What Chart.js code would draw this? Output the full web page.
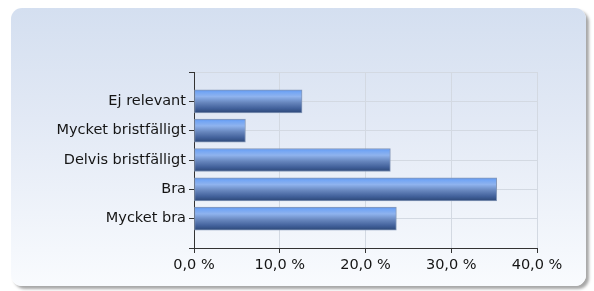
<!DOCTYPE html>
<html>
<head>
<meta charset="utf-8">
<script src="https://cdn.jsdelivr.net/npm/chart.js@4/dist/chart.umd.min.js"></script>
<style>
  html, body { margin: 0; padding: 0; background: #fff; }
  #wrap { position: relative; width: 594px; height: 291px; overflow: hidden; }
  #panel {
    position: absolute; left: 11px; top: 8px; width: 575px; height: 278px;
    border-radius: 11px;
    background: linear-gradient(#d4dff0 0%, #e2e9f5 40%, #f9fbfe 100%);
    box-shadow: 3px 3px 3px rgba(0,0,0,0.35);
  }
  canvas { position: absolute; left: 0; top: 0; }
</style>
</head>
<body>
<div id="wrap">
  <div id="panel"></div>
  <canvas id="chart" width="594" height="291"></canvas>
</div>
<script>
// svar per alternativ (%)
const categories = ['Ej relevant', 'Mycket bristfälligt', 'Delvis bristfälligt', 'Bra', 'Mycket bra'];
const values = [12.6, 6.0, 22.9, 35.3, 23.6];
const xTicks = [0, 10, 20, 30, 40];

// tomma platser överst och nederst, som i originalet
const labels = ['', ...categories, ''];
const data = [null, ...values, null];

const fmt = v => v.toFixed(1).replace('.', ',') + ' %';

function barFill(ctx) {
    const chart = ctx.chart;
    if (!chart.chartArea || ctx.dataIndex === undefined) return '#5a85c8';
    const y = chart.scales.y.getPixelForValue(ctx.dataIndex);
    const g = chart.ctx.createLinearGradient(0, y - 12, 0, y + 12);
    g.addColorStop(0, '#5d93ea');
    g.addColorStop(0.12, '#74a6f4');
    g.addColorStop(0.3, '#8fb3ee');
    g.addColorStop(0.55, '#6786bd');
    g.addColorStop(0.8, '#41609a');
    g.addColorStop(1, '#2a4573');
    return g;
}

new Chart(document.getElementById('chart'), {
    type: 'bar',
    data: {
        labels: labels,
        datasets: [{
            data: data,
            backgroundColor: barFill,
            borderColor: '#8598b8',
            borderWidth: 1,
            borderSkipped: false,
            barThickness: 23
        }]
    },
    options: {
        indexAxis: 'y',
        responsive: false,
        animation: false,
        layout: { padding: { top: 72, right: 57, left: 0, bottom: 0 } },
        plugins: { legend: { display: false }, tooltip: { enabled: false } },
        scales: {
            x: {
                min: 0, max: 40,
                afterBuildTicks: s => { s.ticks = xTicks.map(v => ({ value: v })); },
                afterFit: s => { s.height = 43; },
                grid: { color: '#d3d9e2', tickColor: '#333', tickLength: 5, drawTicks: true },
                border: { color: '#333', width: 1 },
                ticks: {
                    callback: v => fmt(v),
                    color: '#151515', padding: 4,
                    font: { family: 'DejaVu Sans', size: 14.5 }
                }
            },
            y: {
                offset: false,
                afterFit: s => { s.width = 194; },
                grid: { offset: false, color: '#d3d9e2', tickColor: '#333', tickLength: 5, drawTicks: true },
                border: { color: '#333', width: 1 },
                ticks: {
                    color: '#151515', padding: 3,
                    font: { family: 'DejaVu Sans', size: 14.5 }
                }
            }
        }
    }
});
</script>
</body>
</html>
